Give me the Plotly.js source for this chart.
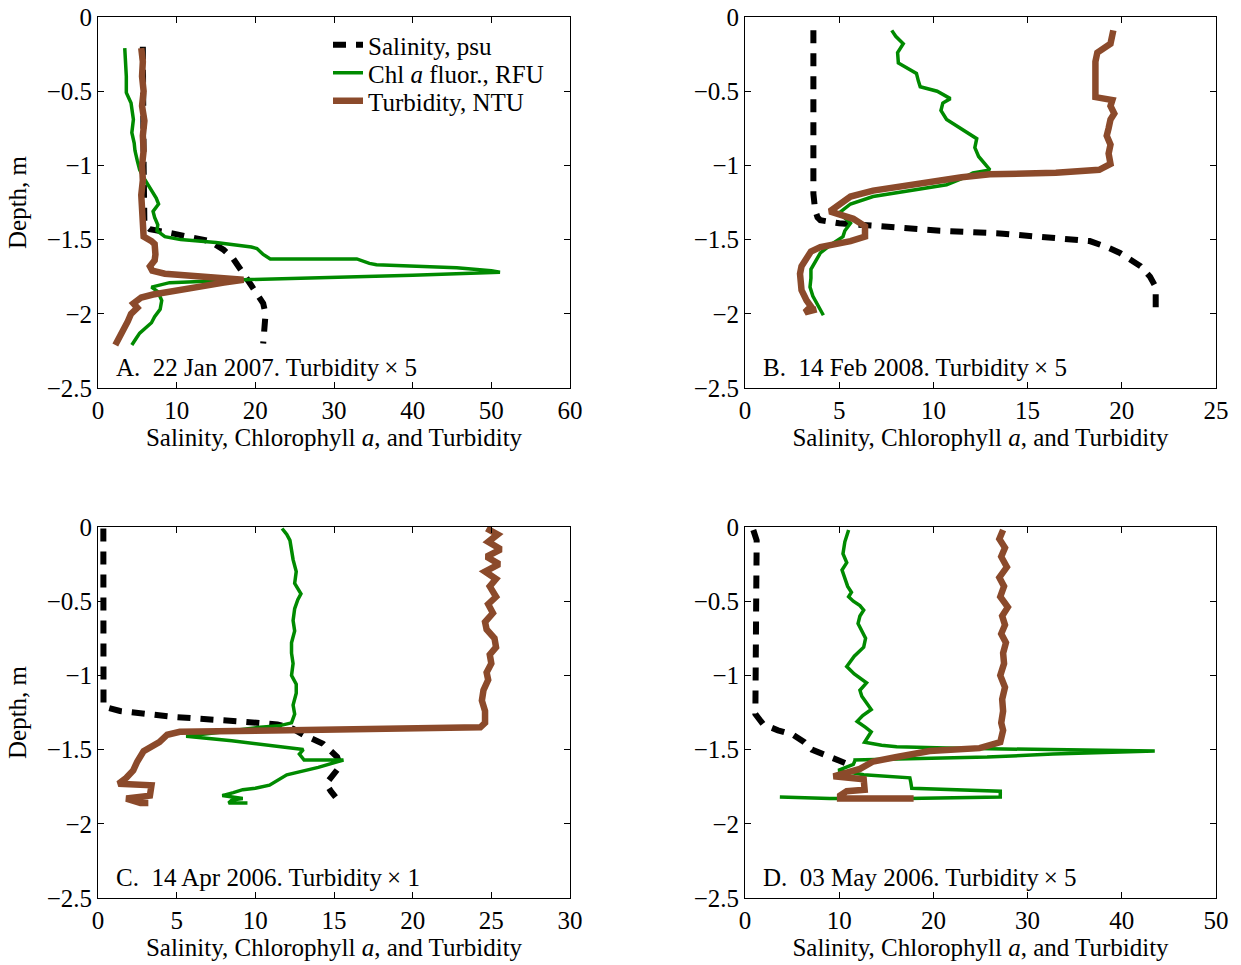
<!DOCTYPE html>
<html>
<head>
<meta charset="utf-8">
<script src="https://cdn.plot.ly/plotly-3.0.1.min.js"></script>
<style>html,body{margin:0;padding:0;background:#fff}#chart{width:1241px;height:965px}</style>
</head>
<body>
<div id="chart"></div>
<script>
// ---------- Data ----------
const seriesNames = ["Salinity, psu", "Chl <i>a</i> fluor., RFU", "Turbidity, NTU"];
const panelLabels = [
  "A.\u00a0 22 Jan 2007. Turbidity\u2009\u00d7\u00a05",
  "B.\u00a0 14 Feb 2008. Turbidity\u2009\u00d7\u00a05",
  "C.\u00a0 14 Apr 2006. Turbidity\u2009\u00d7\u00a01",
  "D.\u00a0 03 May 2006. Turbidity\u2009\u00d7\u00a05"
];
const xTitle = "Salinity, Chlorophyll <i>a</i>, and Turbidity";
const yTitle = "Depth, m";

// Panel A
const A_sal_d = [-0.2,-0.6,-1.0,-1.4,-1.43,-1.46,-1.51,-1.57,-1.63,-1.73,-1.83,-1.93,-2.0,-2.09,-2.15,-2.2];
const A_sal_x = [5.7,5.7,5.8,5.9,6.6,9.6,14.2,16.0,17.2,18.5,19.7,21.0,21.3,21.2,21.0,21.0];
const A_chl_d = [-0.21,-0.3,-0.4,-0.51,-0.58,-0.69,-0.78,-0.85,-0.9,-0.97,-1.03,-1.1,-1.17,-1.22,-1.26,-1.31,-1.35,-1.4,-1.44,-1.48,-1.50,-1.52,-1.55,-1.56,-1.6,-1.63,-1.63,-1.66,-1.67,-1.69,-1.71,-1.72,-1.74,-1.75,-1.77,-1.79,-1.82,-1.85,-1.91,-1.97,-2.02,-2.06,-2.1,-2.13,-2.17,-2.21];
const A_chl_x = [3.4,3.5,3.6,3.6,4.2,4.5,4.3,4.6,4.7,5.0,5.3,6.0,6.8,7.4,7.7,7.0,7.2,7.6,7.5,8.5,10.5,15.0,19.5,20.2,21.0,21.9,32.9,34.5,35.4,45.6,50.0,51.1,40.0,32.9,18.5,9.1,6.8,7.6,8.1,7.9,7.2,6.8,6.0,5.3,4.8,4.3];
const A_tur_d = [-0.21,-0.3,-0.4,-0.5,-0.6,-0.7,-0.8,-0.9,-1.0,-1.1,-1.2,-1.3,-1.4,-1.48,-1.51,-1.53,-1.6,-1.64,-1.68,-1.71,-1.73,-1.75,-1.77,-1.79,-1.81,-1.84,-1.87,-1.89,-1.93,-1.96,-2.0,-2.05,-2.11,-2.16,-2.21];
const A_tur_x = [5.5,5.7,5.6,5.8,5.6,5.9,5.7,5.8,5.6,5.7,5.5,5.6,5.7,5.8,6.8,7.2,7.3,7.2,6.6,6.9,8.5,12.5,18.5,16.0,13.5,10.0,7.0,5.5,4.5,5.0,4.2,3.8,3.2,2.8,2.2];

// Panel B
const B_sal_d = [-0.09,-0.5,-1.0,-1.19,-1.3,-1.35,-1.37,-1.39,-1.41,-1.44,-1.46,-1.49,-1.51,-1.55,-1.59,-1.68,-1.75,-1.82,-1.9,-1.97,-2.0];
const B_sal_x = [3.63,3.63,3.63,3.63,3.72,3.85,4.0,5.0,7.2,10.35,13.7,16.5,18.3,19.2,19.9,21.0,21.5,21.8,21.8,21.8,21.9];
const B_chl_d = [-0.09,-0.13,-0.18,-0.24,-0.31,-0.38,-0.43,-0.47,-0.5,-0.55,-0.58,-0.63,-0.69,-0.76,-0.82,-0.88,-0.94,-1.0,-1.03,-1.05,-1.09,-1.13,-1.17,-1.21,-1.26,-1.32,-1.39,-1.44,-1.48,-1.53,-1.59,-1.65,-1.7,-1.76,-1.82,-1.88,-1.93,-2.01];
const B_chl_x = [7.79,8.0,8.4,8.1,8.14,9.1,9.2,9.3,10.2,10.9,10.5,10.4,10.7,11.6,12.3,12.2,12.4,12.8,13.0,12.1,11.5,10.7,8.6,6.8,5.6,5.0,5.6,5.3,5.2,4.6,4.0,3.7,3.5,3.5,3.45,3.6,3.8,4.16];
const B_tur_d = [-0.09,-0.14,-0.18,-0.24,-0.3,-0.4,-0.5,-0.54,-0.56,-0.6,-0.65,-0.69,-0.75,-0.8,-0.86,-0.92,-0.99,-1.03,-1.05,-1.06,-1.08,-1.10,-1.13,-1.17,-1.21,-1.27,-1.31,-1.33,-1.36,-1.41,-1.48,-1.51,-1.55,-1.58,-1.63,-1.68,-1.73,-1.79,-1.84,-1.91,-1.95,-1.99,-1.97];
const B_tur_x = [19.55,19.5,19.4,18.7,18.6,18.6,18.6,18.6,19.5,19.4,19.6,19.4,19.3,19.2,19.4,19.3,19.4,18.8,16.5,13.0,11.5,10.35,8.6,6.8,5.6,4.87,4.5,5.0,5.75,6.37,6.37,5.6,4.0,3.5,3.27,3.0,2.92,2.95,3.0,3.27,3.5,3.18,3.8];

// Panel C
const C_sal_d = [-0.01,-0.3,-0.6,-0.9,-1.21,-1.24,-1.28,-1.31,-1.33,-1.36,-1.40,-1.46,-1.55,-1.61,-1.67,-1.73,-1.78,-1.82];
const C_sal_x = [0.34,0.35,0.35,0.35,0.35,1.4,4.8,9.0,11.4,12.4,13.05,14.3,15.2,15.4,15.0,14.5,14.8,15.1];
const C_chl_d = [-0.01,-0.05,-0.09,-0.15,-0.22,-0.3,-0.38,-0.45,-0.49,-0.55,-0.63,-0.7,-0.78,-0.85,-0.92,-1.0,-1.06,-1.12,-1.2,-1.26,-1.32,-1.34,-1.35,-1.38,-1.41,-1.44,-1.48,-1.50,-1.53,-1.57,-1.57,-1.62,-1.67,-1.70,-1.74,-1.76,-1.77,-1.79,-1.81,-1.83,-1.84,-1.86,-1.86];
const C_chl_x = [11.7,12.0,12.2,12.3,12.4,12.6,12.5,12.9,12.7,12.5,12.4,12.5,12.3,12.3,12.4,12.3,12.6,12.6,12.4,12.5,12.3,11.5,10.3,8.0,5.6,8.5,11.5,13.05,12.8,13.1,15.6,14.0,12.0,11.5,10.9,10.0,9.2,8.6,7.9,9.2,8.5,8.3,9.5];
const C_tur_d = [-0.01,-0.05,-0.1,-0.15,-0.2,-0.25,-0.3,-0.35,-0.4,-0.47,-0.52,-0.58,-0.64,-0.69,-0.75,-0.81,-0.86,-0.92,-0.98,-1.03,-1.1,-1.17,-1.24,-1.32,-1.35,-1.36,-1.37,-1.38,-1.40,-1.45,-1.51,-1.58,-1.64,-1.69,-1.73,-1.74,-1.78,-1.81,-1.83,-1.86,-1.86];
const C_tur_x = [24.7,25.4,24.8,25.6,24.7,25.5,24.6,25.3,24.9,25.3,24.8,25.1,24.6,24.7,25.2,25.3,24.9,25.0,24.7,24.8,24.5,24.4,24.6,24.6,24.3,20.0,12.2,5.2,4.4,3.9,2.9,2.5,2.24,1.8,1.3,3.4,3.3,3.3,1.8,2.7,3.2];

// Panel D
const D_sal_d = [-0.02,-0.09,-0.4,-0.8,-1.26,-1.33,-1.37,-1.40,-1.45,-1.50,-1.54,-1.57,-1.60];
const D_sal_x = [0.88,1.24,1.2,1.2,1.1,1.94,3.5,5.1,6.3,7.1,8.6,10.1,11.0];
const D_chl_d = [-0.02,-0.1,-0.18,-0.24,-0.29,-0.35,-0.4,-0.44,-0.47,-0.5,-0.53,-0.56,-0.6,-0.65,-0.69,-0.75,-0.81,-0.87,-0.94,-0.99,-1.05,-1.1,-1.14,-1.19,-1.23,-1.27,-1.31,-1.35,-1.38,-1.42,-1.45,-1.47,-1.48,-1.49,-1.50,-1.51,-1.53,-1.545,-1.55,-1.57,-1.57,-1.60,-1.64,-1.67,-1.69,-1.72,-1.76,-1.78,-1.82,-1.83,-1.83,-1.82];
const D_chl_x = [11.0,10.6,10.4,10.8,10.3,10.6,10.9,11.3,11.0,11.5,12.2,12.6,12.2,12.0,12.3,12.8,12.6,11.6,10.8,11.6,12.9,12.2,12.4,13.0,13.4,12.5,11.9,12.8,13.4,13.0,12.7,14.5,16.1,21.4,30.0,43.5,32.7,25.7,25.7,11.5,11.7,11.5,9.9,12.6,17.5,17.6,17.7,27.1,27.1,17.2,9.0,3.7];
const D_tur_d = [-0.02,-0.08,-0.14,-0.2,-0.27,-0.34,-0.4,-0.47,-0.54,-0.6,-0.66,-0.72,-0.78,-0.85,-0.92,-1.0,-1.08,-1.16,-1.24,-1.32,-1.37,-1.45,-1.49,-1.51,-1.55,-1.58,-1.63,-1.66,-1.68,-1.70,-1.74,-1.77,-1.78,-1.81,-1.83,-1.83];
const D_tur_x = [27.4,27.0,27.6,27.2,27.8,27.0,27.5,27.1,27.9,27.3,27.6,27.2,27.7,27.4,27.5,27.1,27.6,27.3,27.4,27.2,27.4,27.1,24.9,19.6,16.1,13.6,12.2,10.5,9.4,12.6,12.7,12.7,10.8,10.1,10.1,17.9];

const xRanges = [[0,60],[0,25],[0,30],[0,50]];
const xDtick = [10,5,5,10];

// ---------- Styling ----------
const FONT = "Liberation Serif, Times New Roman, serif";
const FS = 25;
const C_SAL = "#000000", C_CHL = "#008a00", C_TUR = "#8b4a2b";

const panels = [
  [A_sal_x,A_sal_d,A_chl_x,A_chl_d,A_tur_x,A_tur_d],
  [B_sal_x,B_sal_d,B_chl_x,B_chl_d,B_tur_x,B_tur_d],
  [C_sal_x,C_sal_d,C_chl_x,C_chl_d,C_tur_x,C_tur_d],
  [D_sal_x,D_sal_d,D_chl_x,D_chl_d,D_tur_x,D_tur_d]
];

const legendIds = ["legend", "legend2", "legend3"];
const traces = [];
panels.forEach((p, i) => {
  const ax = i === 0 ? "" : String(i + 1);
  const common = {type: "scatter", mode: "lines", xaxis: "x" + ax, yaxis: "y" + ax, hoverinfo: "skip"};
  traces.push(Object.assign({}, common, {x: p[0], y: p[1], name: seriesNames[0], showlegend: i === 0, legend: legendIds[0],
    line: {color: C_SAL, width: 6, dash: "13px,10px"}}));
  traces.push(Object.assign({}, common, {x: p[2], y: p[3], name: seriesNames[1], showlegend: i === 0, legend: legendIds[1],
    line: {color: C_CHL, width: 3.5}}));
  traces.push(Object.assign({}, common, {x: p[4], y: p[5], name: seriesNames[2], showlegend: i === 0, legend: legendIds[2],
    line: {color: C_TUR, width: 6.5}}));
});

const W = 1241, H = 965;
const xDom = [[98/W, 570/W],[745/W, 1216/W],[98/W, 570/W],[745/W, 1216/W]];
const yDom = [[1-388/H, 1-17/H],[1-388/H, 1-17/H],[1-898/H, 1-527/H],[1-898/H, 1-527/H]];

const legendRowsY = [45, 73, 101];
const layout = {
  width: W, height: H,
  margin: {l: 0, r: 0, t: 0, b: 0},
  paper_bgcolor: "#fff", plot_bgcolor: "#fff",
  font: {family: FONT, size: FS, color: "#000"},
  showlegend: true,
  annotations: []
};
legendIds.forEach((id, k) => {
  layout[id] = {x: 328/W, y: 1 - legendRowsY[k]/H, xanchor: "left", yanchor: "middle",
    bgcolor: "rgba(0,0,0,0)", borderwidth: 0, font: {family: FONT, size: FS, color: "#000"}};
});

panels.forEach((p, i) => {
  const ax = i === 0 ? "" : String(i + 1);
  const axCommon = {showline: true, linecolor: "#000", linewidth: 1, mirror: "ticks", ticks: "inside",
    ticklen: 6, tickcolor: "#000", showgrid: false, zeroline: false,
    tickfont: {family: FONT, size: FS, color: "#000"}};
  layout["xaxis" + ax] = Object.assign({}, axCommon, {
    domain: xDom[i], anchor: "y" + ax, range: xRanges[i], dtick: xDtick[i], tick0: 0,
    title: {text: xTitle, font: {family: FONT, size: FS}, standoff: 2}
  });
  layout["yaxis" + ax] = Object.assign({}, axCommon, {
    domain: yDom[i], anchor: "x" + ax, range: [-2.5, 0], dtick: 0.5, tick0: 0,
    title: {text: (i % 2 === 0) ? yTitle : "", font: {family: FONT, size: FS}, standoff: 12}
  });
  layout.annotations.push({
    text: panelLabels[i], showarrow: false, xref: "paper", yref: "paper",
    x: (i % 2 === 0 ? 114 : 761) / W, y: 1 - (i < 2 ? 367 : 877) / H,
    xanchor: "left", yanchor: "middle", font: {family: FONT, size: FS, color: "#000"}
  });
});

Plotly.newPlot("chart", traces, layout, {displayModeBar: false, staticPlot: true});
</script>
</body>
</html>
